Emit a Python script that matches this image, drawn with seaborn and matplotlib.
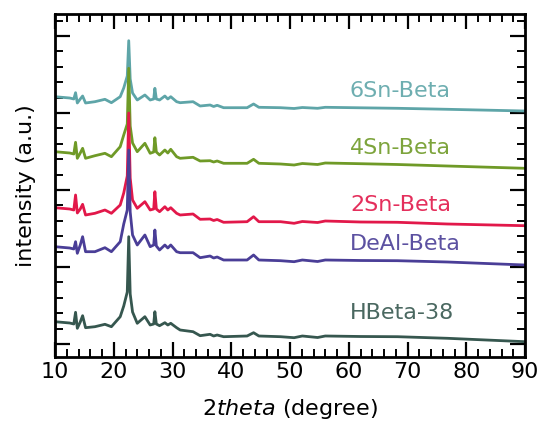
import numpy as np
import pandas as pd
import matplotlib
matplotlib.use("Agg")
import matplotlib.pyplot as plt
from matplotlib.ticker import MultipleLocator, NullFormatter
import seaborn as sns

# 2theta grid (degree)
two_theta = [10, 12.5, 13.2, 13.5, 13.8, 14.3, 14.7, 15.2, 16.8, 18.5, 19.6, 21.1, 21.7,
             22.3, 22.55, 22.8, 23.2, 24.0, 25.3, 26.2, 26.8, 27.0, 27.25, 27.8, 28.7, 29.2,
             29.7, 30.7, 31.3, 33.5, 34.7, 36.4, 37.0, 37.6, 38.7, 42.7, 43.8, 44.7, 48.4,
             50.7, 52.1, 54.7, 56, 62, 68.3, 76.8, 90]

# stacked intensities (a.u., offset for display)
sn6_beta = [247.3, 246, 245, 251.3, 241, 245, 248, 241, 242.3, 244.7, 241.3, 247.3, 256,
            268, 303.3, 265, 251, 244, 249, 244, 245, 255.7, 245, 244, 248, 245, 247.3, 242.3,
            241.3, 242.3, 238, 239, 237.5, 238.7, 236.3, 236.3, 240, 236.7, 236.3, 235.5,
            236.5, 235.7, 236.7, 236.2, 235.7, 234.7, 233]
sn4_beta = [192.3, 191, 190, 201.7, 185.7, 191, 195.7, 185.7, 188.3, 190.7, 187.3, 197.3, 209,
            220, 275.7, 218, 201, 192.3, 200.7, 190.7, 192, 206.3, 192, 189, 194, 191, 194.7,
            187.3, 185.7, 186.7, 183, 183.3, 182, 183, 180.7, 180.7, 184.7, 180.7, 180, 179,
            180.5, 179.5, 181, 180.3, 179.5, 178, 175.7]
sn2_beta = [136.3, 135, 134, 149, 131, 135, 139.7, 129, 130.7, 134, 130.7, 139, 151,
            168, 231, 166, 144, 135.7, 142.3, 134, 135, 152.3, 135, 132.3, 137.3, 134, 136.3,
            130.7, 129, 130, 124.7, 125, 123.5, 124.5, 121.7, 122.3, 127.3, 122.3, 122.3, 120.7,
            122.5, 121.5, 123, 122, 121.7, 120, 118.3]
deal_beta = [97.3, 96, 95, 102.3, 90.7, 99, 107.3, 92.3, 92.3, 96.3, 92.3, 102.3, 120,
             134, 194, 132, 109, 99, 109, 97.3, 99, 114, 98, 94, 99, 96, 99,
             92.3, 91.3, 91.3, 86.3, 88, 86, 87, 84, 84, 89, 84, 83.3, 82.3,
             84, 82.5, 84, 83.5, 83.3, 82, 79]
hbeta_38 = [22.3, 21, 20, 31.7, 15.7, 22, 28.3, 16.3, 17.3, 19.7, 17.3, 27.3, 38,
            52, 107.3, 50, 32, 20.7, 27.3, 19, 20, 32.3, 20, 18.3, 21.3, 19, 20.7,
            16.3, 14, 12.3, 8.3, 9.7, 8, 9, 7.3, 8, 11.3, 8, 7.3, 6.3,
            8, 6.5, 8, 7.5, 7.3, 5.7, 2.3]

samples = ["6Sn-Beta", "4Sn-Beta", "2Sn-Beta", "DeAl-Beta", "HBeta-38"]
series = [sn6_beta, sn4_beta, sn2_beta, deal_beta, hbeta_38]
colors = ["#5ea5a8", "#6f9a27", "#e2184a", "#4a3e97", "#36574f"]
label_y = [253, 196, 139, 100, 31]

sns.set_style("ticks")
plt.rcParams['font.family'] = ['DejaVu Sans']
plt.rcParams['text.color'] = 'black'
plt.rcParams['axes.labelcolor'] = 'black'
plt.rcParams['xtick.color'] = 'black'
plt.rcParams['ytick.color'] = 'black'

fig = plt.figure(figsize=(5.41, 4.23), dpi=100)
ax = fig.add_axes([55/541, 1-357/423, 470/541, 343/423])

for name, vals, col, ly in zip(samples, series, colors, label_y):
    df = pd.DataFrame({"2theta": two_theta, "intensity": vals})
    sns.lineplot(data=df, x="2theta", y="intensity", ax=ax, color=col,
                 linewidth=2.0, estimator=None, sort=False)
    ax.text(60.2, ly, name, color=col, fontsize=16, ha="left", va="center", alpha=0.9)

ax.set_xlim(10, 90)
ax.set_ylim(-13, 330)
ax.xaxis.set_major_locator(MultipleLocator(10))
ax.xaxis.set_minor_locator(MultipleLocator(2))
ax.yaxis.set_major_locator(MultipleLocator(77))
ax.yaxis.set_minor_locator(MultipleLocator(15.4))
ax.yaxis.set_major_formatter(NullFormatter())

ax.tick_params(which="both", direction="in", top=True, right=True, labelsize=16,
               colors="black")
ax.tick_params(which="major", length=11, width=1.6)
ax.tick_params(which="minor", length=6, width=1.4)
for s in ax.spines.values():
    s.set_linewidth(2.0)
    s.set_color("black")

ax.set_xlabel(r"2$\it{theta}$ (degree)", fontsize=16, color="black")
ax.set_ylabel("intensity (a.u.)", fontsize=16, color="black")
ax.xaxis.set_label_coords(0.5, -0.118)
ax.yaxis.set_label_coords(-0.04, 0.5)
ax.xaxis.label.set_va("top")

fig.savefig("out.png", dpi=100)
